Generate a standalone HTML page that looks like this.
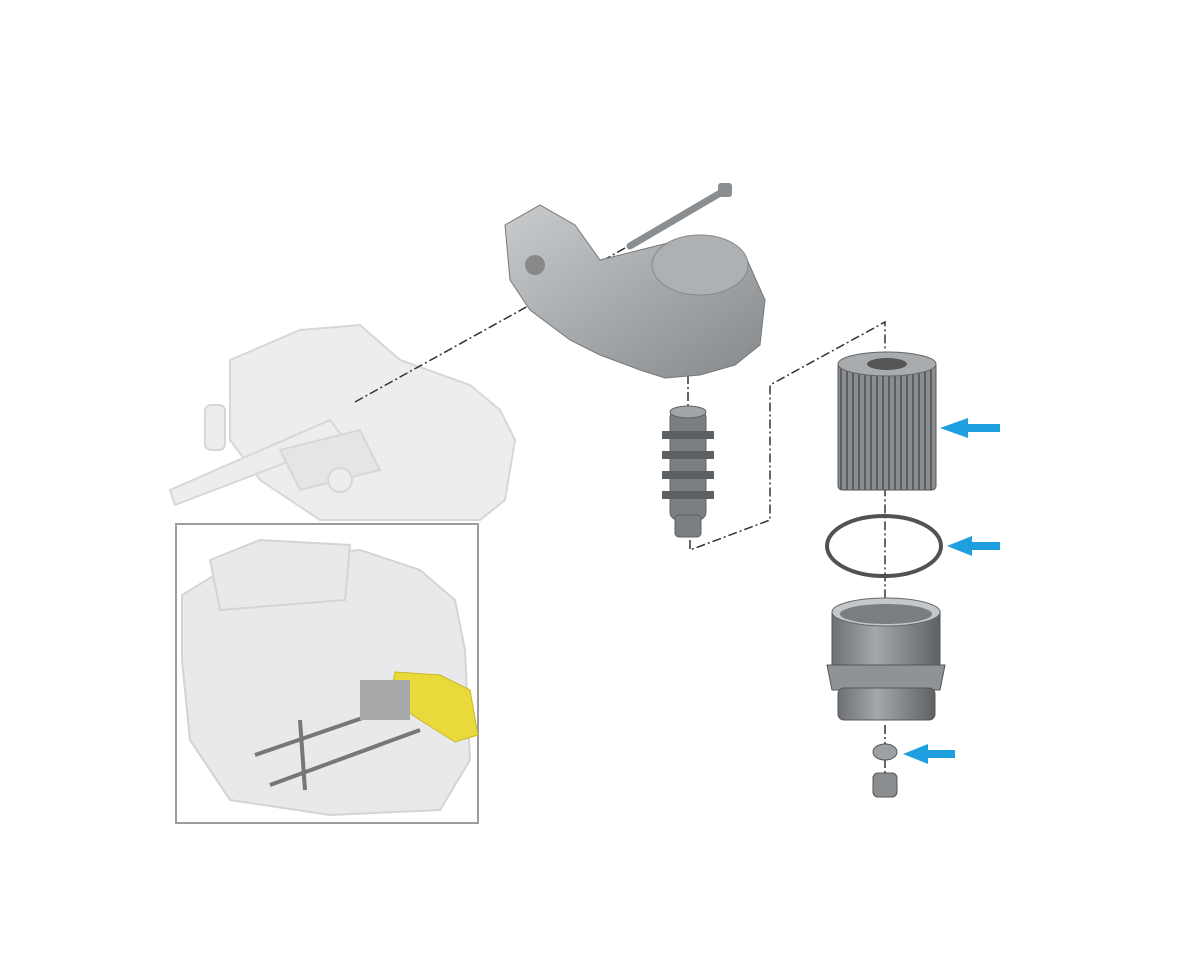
<!DOCTYPE html>
<html><head><meta charset="utf-8"><style>
html,body{margin:0;padding:0;background:#fff;width:1200px;height:960px;overflow:hidden}
svg{display:block}
</style></head><body>
<svg width="1200" height="960" viewBox="0 0 1200 960" xmlns="http://www.w3.org/2000/svg">
<defs>
<linearGradient id="cyl" x1="0" x2="1">
<stop offset="0" stop-color="#6d7174"/><stop offset="0.4" stop-color="#a4a8ab"/><stop offset="1" stop-color="#5e6265"/>
</linearGradient>
<linearGradient id="hous" x1="0" x2="1" y1="0" y2="1">
<stop offset="0" stop-color="#c9cbcd"/><stop offset="1" stop-color="#85898c"/>
</linearGradient>
<pattern id="pleat" width="6" height="10" patternUnits="userSpaceOnUse">
<rect width="6" height="10" fill="#8a8e91"/><rect width="2" height="10" fill="#5a5e61"/>
</pattern>
</defs>
<!-- faded engine block -->
<g fill="#eceded" stroke="#d6d7d8" stroke-width="2">
<path d="M230 360 L300 330 L360 325 L400 360 L470 385 L500 410 L515 440 L505 500 L480 520 L320 520 L260 480 L230 440 Z"/>
<path d="M170 490 L330 420 L345 440 L175 505 Z"/>
<rect x="205" y="405" width="20" height="45" rx="6"/>
<path d="M280 450 L360 430 L380 470 L300 490 Z" fill="#e4e5e6"/>
<circle cx="340" cy="480" r="12"/>
</g>
<!-- inset box -->
<rect x="176" y="524" width="302" height="299" fill="#fff" stroke="#9a9c9e" stroke-width="2"/>
<g fill="#e8e9ea" stroke="#d3d4d5" stroke-width="2">
<path d="M182 595 L240 560 L360 550 L420 570 L455 600 L465 650 L470 760 L440 810 L330 815 L230 800 L190 740 L182 660 Z"/>
<path d="M210 560 L260 540 L350 545 L345 600 L220 610 Z"/>
</g>
<path d="M395 672 L440 675 L470 690 L478 735 L455 742 L420 720 L390 700 Z" fill="#ead93a" stroke="#c9b825"/>
<g stroke="#777" stroke-width="4" fill="none">
<path d="M255 755 L400 705"/><path d="M270 785 L420 730"/><path d="M300 720 L305 790"/>
</g>
<rect x="360" y="680" width="50" height="40" fill="#a6a8aa"/>
<!-- dash-dot connectors -->
<g stroke="#333" stroke-width="1.5" fill="none" stroke-dasharray="9 3 2 3">
<path d="M355 402 L575 280"/>
<path d="M625 248 L560 285"/>
<path d="M688 375 L688 410"/>
<path d="M690 540 L690 550 L770 520 L770 385 L885 322 L885 660"/>
<path d="M885 725 L885 785"/>
</g>
<!-- bolt -->
<path d="M630 246 L722 192" stroke="#8a8e91" stroke-width="7" stroke-linecap="round"/>
<rect x="718" y="183" width="14" height="14" rx="3" fill="#8a8e91"/>
<!-- housing -->
<path d="M505 225 L540 205 L575 225 L600 260 L640 250 L700 235 L745 255 L765 300 L760 345 L735 365 L700 375 L665 378 L640 370 L600 355 L570 340 L530 310 L510 280 Z" fill="url(#hous)" stroke="#777"/>
<ellipse cx="700" cy="265" rx="48" ry="30" fill="#aeb1b3" stroke="#888"/>
<circle cx="535" cy="265" r="10" fill="#888"/>
<!-- valve/spring -->
<g fill="#7b7f82" stroke="#5c6063">
<rect x="670" y="410" width="36" height="110" rx="8"/>
<ellipse cx="688" cy="412" rx="18" ry="6" fill="#a2a6a9"/>
<path d="M662 435 h52 M662 455 h52 M662 475 h52 M662 495 h52" stroke="#5c6063" stroke-width="8"/>
<rect x="675" y="515" width="26" height="22" rx="4"/>
</g>
<!-- filter -->
<rect x="838" y="362" width="98" height="128" rx="4" fill="url(#pleat)" stroke="#555"/>
<ellipse cx="887" cy="364" rx="49" ry="12" fill="#a8acaf" stroke="#666"/>
<ellipse cx="887" cy="364" rx="20" ry="6" fill="#555"/>
<!-- o-ring -->
<ellipse cx="884" cy="546" rx="57" ry="30" fill="none" stroke="#4f5356" stroke-width="4"/>
<!-- cap -->
<rect x="832" y="612" width="108" height="55" fill="url(#cyl)" stroke="#555"/>
<ellipse cx="886" cy="612" rx="54" ry="14" fill="#c5c8ca" stroke="#666"/>
<ellipse cx="886" cy="614" rx="46" ry="10" fill="#7a7e81"/>
<path d="M827 665 L945 665 L940 690 L832 690 Z" fill="#8f9396" stroke="#555"/>
<rect x="838" y="688" width="97" height="32" rx="6" fill="url(#cyl)" stroke="#555"/>
<!-- small parts -->
<ellipse cx="885" cy="752" rx="12" ry="8" fill="#9da1a4" stroke="#555"/>
<rect x="873" y="773" width="24" height="24" rx="5" fill="#8a8e91" stroke="#555"/>
<!-- blue arrows -->
<g fill="#1ea0e0">
<path d="M940 428 L968 418 L968 424 L1000 424 L1000 432 L968 432 L968 438 Z"/>
<path d="M947 546 L972 536 L972 542 L1000 542 L1000 550 L972 550 L972 556 Z"/>
<path d="M903 754 L928 744 L928 750 L955 750 L955 758 L928 758 L928 764 Z"/>
</g>
</svg>
</body></html>
